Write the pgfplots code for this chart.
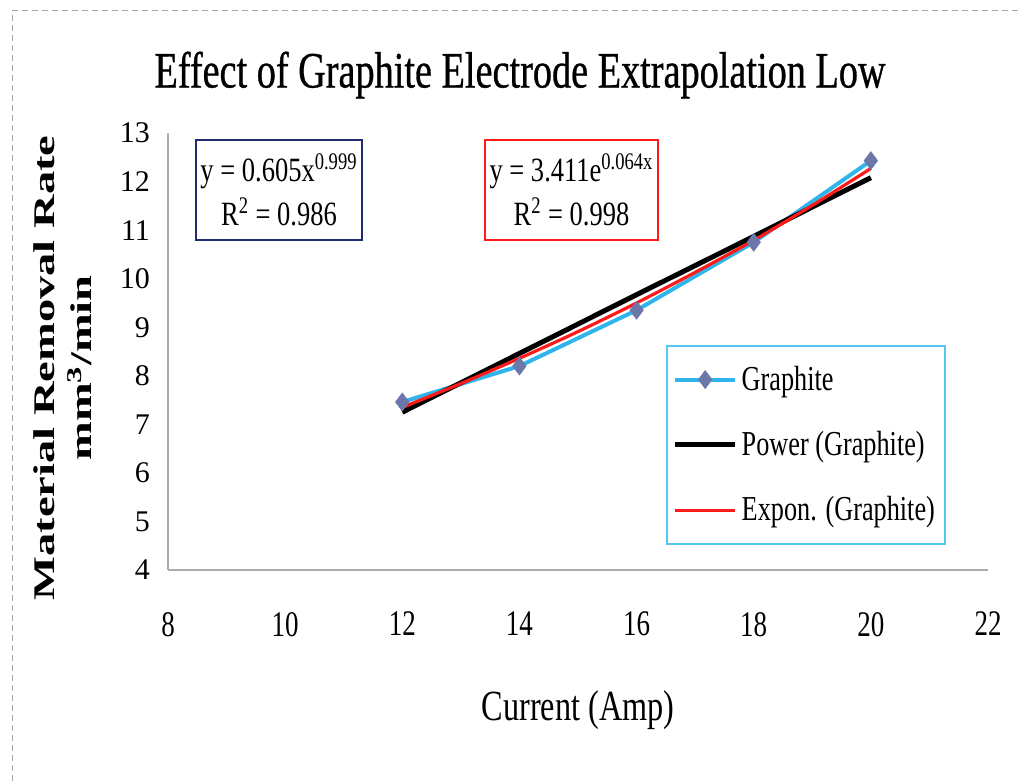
\documentclass[border=0pt]{standalone}
\usepackage{fontspec}
\setmainfont{Liberation Serif}
\newfontfamily\condfont[FakeStretch=0.75]{Liberation Serif}
\newfontfamily\titlefont[FakeStretch=0.75, FakeBold=0.6]{Liberation Serif}
\newfontfamily\eqfont[FakeStretch=0.78]{Liberation Serif}
\newfontfamily\ylabfont[FakeStretch=1.55]{Liberation Serif}
\usepackage{pgfplots}
\pgfplotsset{compat=1.18}
\definecolor{gcyan}{HTML}{2FB4EC}
\definecolor{gmark}{HTML}{6B77A9}
\definecolor{legcyan}{HTML}{55C6F2}
\definecolor{navy}{HTML}{1F2D6E}
\definecolor{ered}{HTML}{FF1A1A}
\begin{document}
\begin{tikzpicture}
\useasboundingbox (0pt,0pt) rectangle (509pt,390.5pt);
\draw[gray!70, dashed, dash pattern=on 3pt off 2pt, line width=0.5pt] (6pt,0pt) -- (6pt,385pt) -- (509pt,385pt);
\node[font=\titlefont\fontsize{25.5}{26}\selectfont] at (260pt,353pt) {Effect of Graphite Electrode Extrapolation Low};
\node[rotate=90, align=center, font=\ylabfont\bfseries\fontsize{15}{18.5}\selectfont] at (31.5pt,206.5pt) {Material Removal Rate\\ mm\textsuperscript{3}/min};
\node[font=\condfont\fontsize{21.5}{22}\selectfont] at (289pt,35.5pt) {Current (Amp)};
\begin{axis}[
  at={(84pt,105.5pt)}, anchor=south west,
  scale only axis, width=410pt, height=218.5pt,
  xmin=8, xmax=22, ymin=4, ymax=13,
  xtick={8,10,...,22}, ytick={4,5,...,13},
  axis x line*=bottom, axis y line*=left,
  axis line style={draw=gray!65, line width=0.7pt},
  major tick length=0pt,
  /pgf/number format/assume math mode=true,
  xticklabel style={font=\condfont\fontsize{18}{18}\selectfont, yshift=-17.5pt},
  yticklabel style={font=\fontsize{15}{15}\selectfont, xshift=-5.5pt},
  clip=false,
  legend cell align=left,
  legend image code/.code={\draw[mark repeat=2,mark phase=2,#1] plot coordinates {(0pt,0pt) (15pt,0pt) (30pt,0pt)};},
  legend style={at={(0.607,0.515)}, anchor=north west, draw=legcyan, line width=1pt,
    font=\condfont\fontsize{17.5}{17.5}\selectfont, inner xsep=3pt, inner ysep=8pt,
    row sep=15pt, column sep=0pt},
]
\addplot[gcyan, line width=2pt, mark=diamond*, mark size=4.5pt, mark options={fill=gmark, draw=gmark, line width=0.3pt}]
  coordinates {(12,7.46) (14,8.20) (16,9.35) (18,10.75) (20,12.43)};
\addlegendentry{Graphite}
\addplot[black, line width=2.5pt]
  coordinates {(12,7.25) (14,8.46) (16,9.67) (18,10.87) (20,12.08)};
\addlegendentry{Power (Graphite)}
\addplot[ered, line width=1.6pt, smooth]
  coordinates {(12,7.35) (13,7.84) (14,8.36) (15,8.91) (16,9.50) (17,10.13) (18,10.79) (19,11.51) (20,12.27)};
\addlegendentry{Expon. (Graphite)}
\end{axis}
\node[draw=navy, line width=1pt, fill=white, minimum width=83pt, minimum height=50pt, align=center, inner sep=1pt, font=\eqfont\fontsize{17}{22}\selectfont] at (139.5pt,295.5pt)
  {y = 0.605x\textsuperscript{0.999}\\ R\textsuperscript{2} = 0.986};
\node[draw=ered, line width=1pt, fill=white, minimum width=86.5pt, minimum height=50pt, align=center, inner sep=1pt, font=\eqfont\fontsize{17}{22}\selectfont] at (285.75pt,295.5pt)
  {y = 3.411e\textsuperscript{0.064x}\\ R\textsuperscript{2} = 0.998};
\end{tikzpicture}
\end{document}
